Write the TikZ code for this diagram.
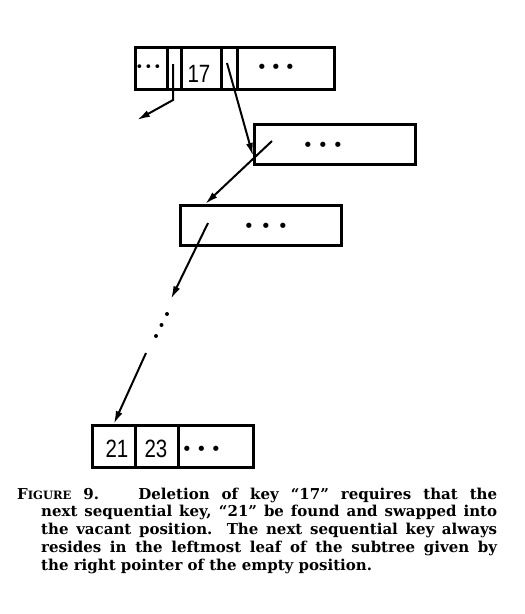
\documentclass[tikz,border=0pt]{standalone}
\usepackage{fontspec}
\setmainfont{DejaVu Serif}
\newfontfamily\digfont[FakeStretch=0.82]{Liberation Sans}
\newfontfamily\dotfont{DejaVu Sans}
\usetikzlibrary{arrows.meta,calc}
\newcommand\drow[2]{{\dotfont\fontsize{#2}{#2}\selectfont\makebox[#1][c]{•}\makebox[#1][c]{•}\makebox[#1][c]{•}}}
\begin{document}
\begin{tikzpicture}[x=1pt,y=-1pt,
  cell/.style={draw,line width=2.5pt,inner sep=0pt,anchor=north west},
  ptr/.style={line width=2pt,-{Latex[length=13pt,width=7pt]}},
  key/.style={inner sep=0pt,font=\digfont\fontsize{25}{25}\selectfont},
  dotrow/.style={inner sep=0pt}]
\useasboundingbox (0,0) rectangle (525,614);
% top node
\node[cell,minimum width=32pt,minimum height=42pt] (a1) at (134,46) {};
\node[cell,minimum width=14pt,minimum height=42pt] (a2) at (166,46) {};
\node[cell,minimum width=40pt,minimum height=42pt] (a3) at (180,46) {};
\node[cell,minimum width=16pt,minimum height=42pt] (a4) at (220,46) {};
\node[cell,minimum width=97pt,minimum height=42pt] (a5) at (236,46) {};
\node[key] (k17) at (199,74) {17};
\node[dotrow] (d1) at (148.5,68) {\drow{9pt}{13}};
\node[dotrow] (d2) at (276,69) {\drow{14pt}{18}};
% second node
\node[cell,minimum width=161pt,minimum height=40pt] (n2) at (253,123) {};
\node[dotrow] (d3) at (323,147) {\drow{15pt}{18}};
% third node
\node[cell,minimum width=161pt,minimum height=40pt] (n3) at (179,204) {};
\node[dotrow] (d4) at (266,228) {\drow{17pt}{18}};
% bottom leaf
\node[cell,minimum width=43pt,minimum height=42pt] (b1) at (91,424) {};
\node[cell,minimum width=43pt,minimum height=42pt] (b2) at (134,424) {};
\node[cell,minimum width=75pt,minimum height=42pt] (b3) at (177,424) {};
\node[key] (k21) at (117,448.5) {21};
\node[key] (k23) at (156,448.5) {23};
\node[dotrow] (d5) at (201.5,451) {\drow{14.5pt}{18}};
% pointers
\coordinate (p1s) at (173,64);
\coordinate (p1b) at (173,100);
\coordinate (p1e) at (137,120);
\draw[ptr] (p1s) -- (p1b) -- (p1e);
\coordinate (p2s) at (227,63);
\draw[ptr] (p2s) -- ($(n2.north west)!0.775!(n2.south west)$);
\coordinate (p3s) at (272,141);
\draw[ptr] (p3s) -- ($(n3.north west)!0.16!(n3.north east)$);
\coordinate (p4s) at (208,223);
\coordinate (p4e) at (171,299);
\draw[ptr] (p4s) -- (p4e);
\fill (167,314) circle (2pt) (161.5,325) circle (2pt) (156,336) circle (2pt);
\coordinate (p5s) at (146,353);
\draw[ptr] (p5s) -- (b1.north);
% caption
\node[anchor=north west,inner sep=0pt,text width=480pt,align=justify,
      font={\fontsize{15}{17.8}\selectfont\bfseries}] (cap) at (17,487.5) {%
\hangindent=24pt\hangafter=1
F{\fontsize{11.5}{17.8}\selectfont IGURE} 9.\hspace{0.8em} Deletion of key “17” requires that the\linebreak
next sequential key, “21” be found and swapped into\linebreak
the vacant position. The next sequential key always\linebreak
resides in the leftmost leaf of the subtree given by\linebreak
the right pointer of the empty position.\par};
\end{tikzpicture}
\end{document}
